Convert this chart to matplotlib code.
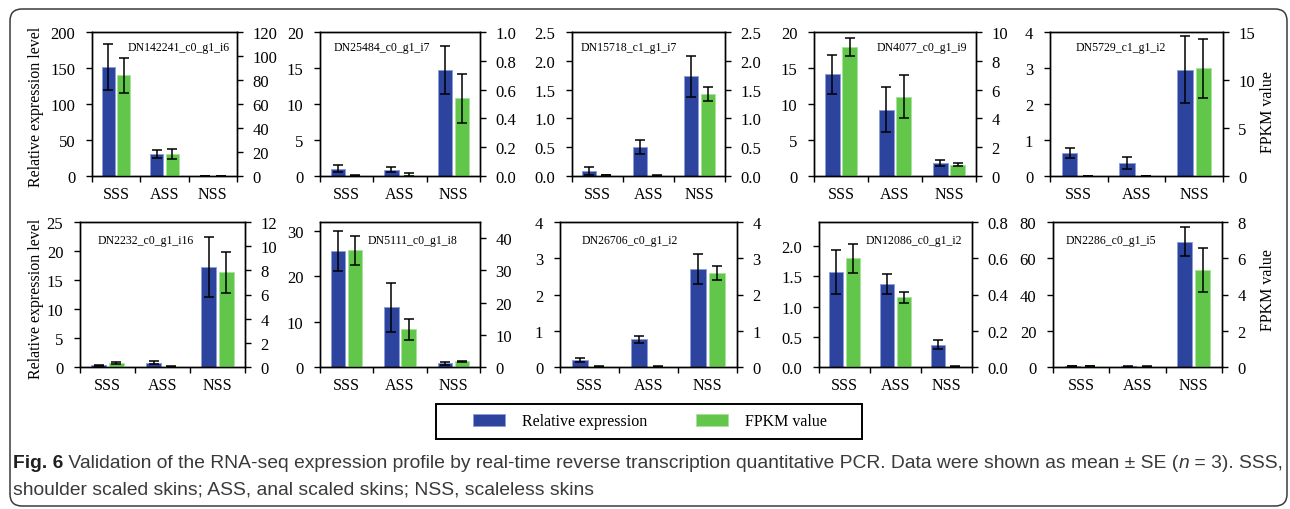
import matplotlib
matplotlib.use("Agg")
import matplotlib.pyplot as plt
from matplotlib.patches import Rectangle, FancyBboxPatch
from matplotlib.ticker import MultipleLocator
import numpy as np

# ---- data ----
groups = ["SSS", "ASS", "NSS"]
genes = ["DN142241_c0_g1_i6", "DN25484_c0_g1_i7", "DN15718_c1_g1_i7",
         "DN4077_c0_g1_i9", "DN5729_c1_g1_i2", "DN2232_c0_g1_i16",
         "DN5111_c0_g1_i8", "DN26706_c0_g1_i2", "DN12086_c0_g1_i2",
         "DN2286_c0_g1_i5"]

rel_mean = [[151, 30.5, 0.3], [1.0, 0.85, 14.7], [0.09, 0.5, 1.73],
            [14.1, 9.2, 1.8], [0.63, 0.36, 2.95], [0.3, 0.75, 17.3],
            [25.6, 13.2, 0.8], [0.2, 0.76, 2.7], [1.57, 1.38, 0.37],
            [0.5, 0.3, 69.1]]
rel_se = [[32, 5, 0.05], [0.5, 0.35, 3.3], [0.07, 0.12, 0.36],
          [2.7, 3.1, 0.37], [0.14, 0.16, 0.93], [0.12, 0.3, 5.2],
          [4.4, 5.4, 0.4], [0.05, 0.09, 0.41], [0.36, 0.165, 0.08],
          [0.15, 0.1, 8.0]]
fpkm_mean = [[84, 18.5, 0.2], [0.004, 0.01, 0.54], [0.015, 0.01, 1.42],
             [8.95, 5.5, 0.78], [0.01, 0.01, 11.2], [0.35, 0.05, 7.85],
             [36.3, 11.7, 1.8], [0.02, 0.02, 2.6], [0.60, 0.385, 0.003],
             [0.05, 0.02, 5.34]]
fpkm_se = [[14.5, 4, 0.05], [0.002, 0.012, 0.17], [0.005, 0.005, 0.12],
           [0.64, 1.5, 0.1], [0.005, 0.005, 3.07], [0.07, 0.03, 1.7],
           [4.5, 3.3, 0.2], [0.01, 0.01, 0.19], [0.08, 0.03, 0.001],
           [0.01, 0.01, 1.2]]

# axis ranges (left / right) and tick steps
left_lim = [200, 20, 2.5, 20, 4, 25, 32, 4, 2.4, 80]
left_step = [50, 5, 0.5, 5, 1, 5, 10, 1, 0.5, 20]
right_lim = [120, 1.0, 2.5, 10, 15, 12, 45, 4, 0.8, 8]
right_step = [20, 0.2, 0.5, 2, 5, 2, 10, 1, 0.2, 2]

# ---- layout (pixels of a 1290x510 canvas) ----
W, H = 1290, 510
cols_px = [(92, 237), (320, 480), (572, 725), (814, 976), (1050, 1223),
           (80, 245), (320, 480), (560, 737), (819, 972), (1053, 1222)]
rows_px = [(33, 177)] * 5 + [(223, 368)] * 5
label_px = [(128, 48), (334, 48), (581, 48), (877, 48), (1076, 48),
            (98, 241), (368, 241), (582, 241), (866, 241), (1066, 241)]

BLUE = "#2d449f"
GREEN = "#62c64b"
plt.rcParams["font.family"] = ["Liberation Serif", "DejaVu Serif"]
plt.rcParams["axes.linewidth"] = 1.0

fig = plt.figure(figsize=(12.9, 5.1), dpi=100)
x = np.arange(3) + 0.5
off, bw = 0.16, 0.27

for i in range(10):
    (x0, x1), (yt, yb) = cols_px[i], rows_px[i]
    ax = fig.add_axes([x0 / W, 1 - yb / H, (x1 - x0) / W, (yb - yt) / H])
    ax2 = ax.twinx()

    blue = ax.bar(x - off, rel_mean[i], bw, color=BLUE, edgecolor="#8f9cd8",
                  linewidth=0.7, zorder=2)
    ax.errorbar(x - off, rel_mean[i], yerr=rel_se[i], fmt="none",
                ecolor="black", elinewidth=1.1, capsize=3.5, capthick=1.1,
                zorder=3)
    green = ax2.bar(x + off, fpkm_mean[i], bw, color=GREEN,
                    edgecolor="#a9e29c", linewidth=0.7, zorder=2)
    ax2.errorbar(x + off, fpkm_mean[i], yerr=fpkm_se[i], fmt="none",
                 ecolor="black", elinewidth=1.1, capsize=3.5, capthick=1.1,
                 zorder=3)

    ax.set_xlim(0, 3)
    ax.set_ylim(0, left_lim[i])
    ax2.set_ylim(0, right_lim[i])
    ax.yaxis.set_major_locator(MultipleLocator(left_step[i]))
    ax2.yaxis.set_major_locator(MultipleLocator(right_step[i]))

    ax.set_xticks([0, 1, 2, 3])
    ax.set_xticklabels([])
    ax.set_xticks(x, minor=True)
    ax.set_xticklabels(groups, minor=True)
    ax.tick_params(axis="x", which="major", direction="out", length=4.5,
                   width=1.0)
    ax.tick_params(axis="x", which="minor", length=0, labelsize=11.5, pad=7)
    ax.tick_params(axis="y", direction="out", length=4, width=1.0,
                   labelsize=12, pad=8)
    ax2.tick_params(axis="y", direction="out", length=4, width=1.0,
                    labelsize=12, pad=7)

    lx, ly = label_px[i]
    fig.text(lx / W, 1 - ly / H, genes[i], fontsize=8.5, ha="left",
             va="center")

# axis titles
for yc in (107, 299):
    fig.text(36 / W, 1 - yc / H, "Relative expression level", rotation=90,
             ha="center", va="center", fontsize=11.5)
for yc in (112, 290):
    fig.text(1268 / W, 1 - yc / H, "FPKM value", rotation=90,
             ha="center", va="center", fontsize=11.5)

# legend box
fig.add_artist(Rectangle((436 / W, 1 - 440 / H), 426 / W, 35 / H,
                         transform=fig.transFigure, fill=False,
                         lw=1.4, ec="black"))
fig.legend([blue, green], ["Relative expression", "FPKM value"], ncol=2,
           loc="center", bbox_to_anchor=(650 / W, 1 - 422.5 / H),
           frameon=False, fontsize=11.5, handlelength=2.0,
           handleheight=0.7, handletextpad=1.1, columnspacing=3.0)

# caption
CAP_FONT = ["Liberation Sans Narrow", "Liberation Sans", "DejaVu Sans"]
line1 = [("Fig. 6", {"weight": "bold", "color": "#231f20"}),
         (" Validation of the RNA-seq expression profile by real-time reverse "
          "transcription quantitative PCR. Data were shown as mean \u00b1 SE (",
          {}),
         ("n", {"style": "italic"}),
         (" = 3). SSS,", {})]
line2 = [("shoulder scaled skins; ASS, anal scaled skins; NSS, scaleless skins",
          {})]


def caption_line(y_px, runs, size):
    renderer = fig.canvas.get_renderer()
    xp = 13
    texts = []
    for s, kw in runs:
        style = {"color": "#3a3a3a"}
        style.update(kw)
        t = fig.text(xp / W, 1 - y_px / H, s, fontsize=size, ha="left",
                     va="center", family=CAP_FONT, **style)
        xp += t.get_window_extent(renderer).width
        texts.append(t)
    return texts, xp - 13


texts, width = caption_line(464, line1, 11)
for t in texts:
    t.remove()
cap_size = 11 * 1268 / width
caption_line(464, line1, cap_size)
caption_line(490, line2, cap_size)

# outer rounded frame
fig.add_artist(FancyBboxPatch((0.10, 0.03), 12.77, 4.97,
                              boxstyle="round,pad=0,rounding_size=0.12",
                              transform=fig.dpi_scale_trans, fill=False,
                              lw=1.1, ec="#3a3a3a"))

fig.savefig("out.png", dpi=100)
